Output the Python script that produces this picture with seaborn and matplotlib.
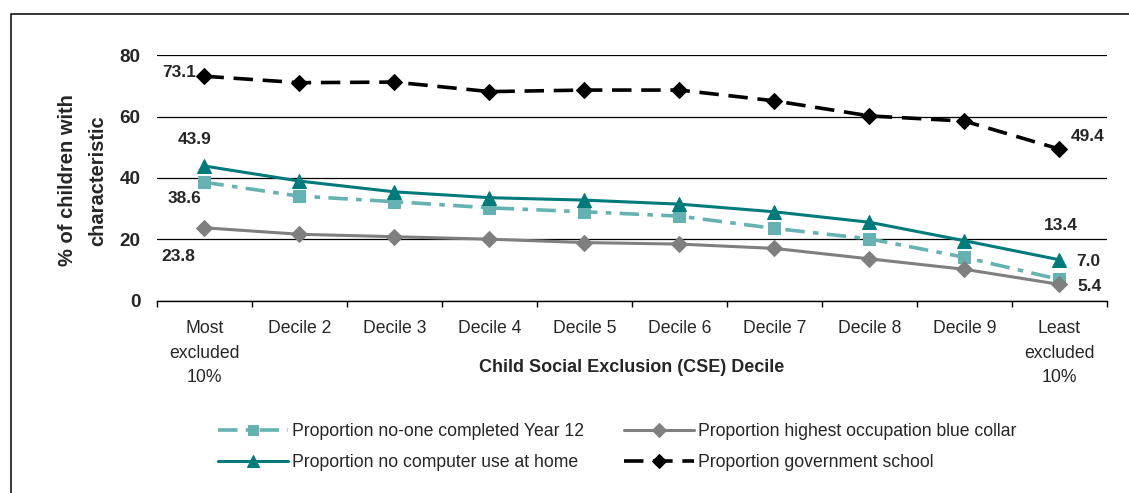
import matplotlib
matplotlib.use("Agg")
import matplotlib.pyplot as plt
import seaborn as sns
import pandas as pd
import numpy as np
from matplotlib.patches import Rectangle

sns.set_theme(style="white")
plt.rcParams["font.family"] = ["Liberation Sans", "DejaVu Sans"]
plt.rcParams["lines.scale_dashes"] = False

# CSE deciles, most to least excluded
deciles = ["Most\nexcluded\n10%", "Decile 2", "Decile 3", "Decile 4", "Decile 5",
           "Decile 6", "Decile 7", "Decile 8", "Decile 9", "Least\nexcluded\n10%"]

year12 = [38.6, 34.1, 32.3, 30.3, 29.0, 27.6, 23.6, 20.2, 14.2, 7.0]
computer = [43.9, 39.0, 35.5, 33.6, 32.8, 31.5, 29.0, 25.6, 19.6, 13.4]
blue_collar = [23.8, 21.7, 20.9, 20.1, 19.0, 18.5, 17.1, 13.7, 10.3, 5.4]
gov_school = [73.1, 71.0, 71.2, 68.1, 68.6, 68.6, 65.1, 60.2, 58.5, 49.4]

names = ["Proportion no-one completed Year 12",
         "Proportion no computer use at home",
         "Proportion highest occupation blue collar",
         "Proportion government school"]
series = [year12, computer, blue_collar, gov_school]

styles = {
    names[0]: dict(color="#66B2B2", marker="s", ms=9, lw=2.6, dashes=(14, 6, 4, 6)),
    names[1]: dict(color="#007A7A", marker="^", ms=10, lw=2.2, dashes=None),
    names[2]: dict(color="#7F7F7F", marker="D", ms=8, lw=2.2, dashes=None),
    names[3]: dict(color="#000000", marker="D", ms=8, lw=2.6, dashes=(14, 7)),
}

fig = plt.figure(figsize=(11.29, 4.93), dpi=100)
ax = fig.add_axes([0.139, 0.3895, 0.8415, 0.4989])

x = np.arange(len(deciles))
handles = {}
for name, vals in zip(names, series):
    st = styles[name]
    df = pd.DataFrame({"x": x, "y": vals})
    sns.lineplot(data=df, x="x", y="y", ax=ax, color=st["color"], marker=st["marker"],
                 markersize=st["ms"], markeredgecolor=st["color"], linewidth=st["lw"],
                 label=name, legend=False)
    line = ax.lines[-1]
    if st["dashes"] is not None:
        line.set_dashes(st["dashes"])
    handles[name] = line

# value labels at the ends of each series (offsets in points)
labels = [
    (0, gov_school[0], -18, 3),
    (0, computer[0], -7, 19),
    (0, year12[0], -14, -12),
    (0, blue_collar[0], -19, -21),
    (9, gov_school[9], 20, 9),
    (9, computer[9], 1, 25),
    (9, year12[9], 21, 13),
    (9, blue_collar[9], 22, -1.5),
]
for xi, v, dx, dy in labels:
    ax.annotate(f"{v:.1f}", xy=(xi, v), xytext=(dx, dy), textcoords="offset points",
                ha="center", va="center", fontsize=12.5, fontweight="bold")

ax.set_xlim(-0.5, 9.5)
ax.set_ylim(0, 80)
ax.set_yticks([0, 20, 40, 60, 80])
ax.set_yticklabels(["0", "20", "40", "60", "80"], fontsize=13.6, fontweight="bold")
ax.yaxis.grid(True, color="black", linewidth=0.9)
ax.set_axisbelow(True)
ax.tick_params(axis="y", length=0, pad=12)

ax.set_xticks(x)
ax.set_xticklabels(deciles, fontsize=12.7)
for t in ax.get_xticklabels():
    t.set_linespacing(1.55)
ax.set_xticks(np.arange(-0.5, 10, 1), minor=True)
ax.tick_params(axis="x", which="major", length=0, pad=14)
ax.tick_params(axis="x", which="minor", length=4, width=1, color="black", direction="out",
               bottom=True)

for s in ["left", "right", "top"]:
    ax.spines[s].set_visible(False)
ax.spines["bottom"].set_color("black")
ax.spines["bottom"].set_linewidth(1.0)

ax.set_xlabel("")
ax.set_ylabel("")
ax.text(0.5, -0.272, "Child Social Exclusion (CSE) Decile", transform=ax.transAxes,
        ha="center", va="center", fontsize=13, fontweight="bold")
ax.text(-0.078, 0.49, "% of children with\ncharacteristic", transform=ax.transAxes,
        ha="center", va="center", rotation=90, fontsize=14.5, fontweight="bold",
        linespacing=1.75)

fig.legend([handles[n] for n in names], names, ncol=2, loc="upper left",
           bbox_to_anchor=(0.193, 0.142), bbox_transform=fig.transFigure,
           frameon=False, fontsize=12.7, handlelength=4.0, handletextpad=0.2,
           columnspacing=2.25, labelspacing=0.8, borderaxespad=0, borderpad=0,
           markerscale=0.85)

# outer frame
fig.patches.append(Rectangle((11 / 1129, -0.2), 1.2, 1.2 - 14 / 493, fill=False,
                             edgecolor="black", linewidth=1.1, transform=fig.transFigure,
                             figure=fig))

fig.savefig("out.png", dpi=100)
